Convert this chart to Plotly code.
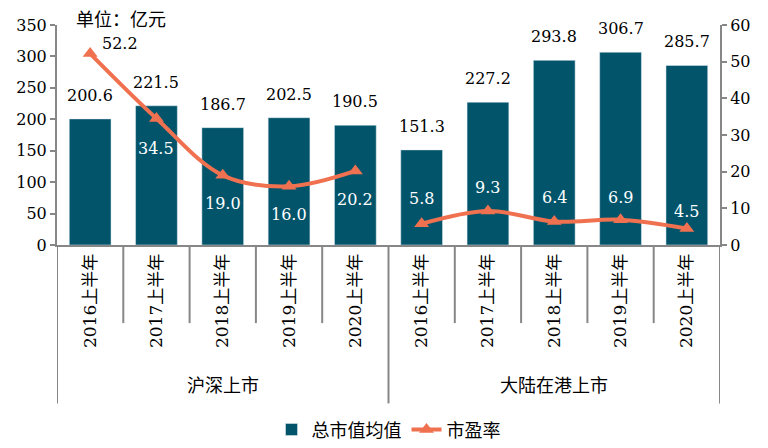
import plotly.graph_objects as go

groups = ["沪深上市", "大陆在港上市"]
periods = ["2016上半年", "2017上半年", "2018上半年", "2019上半年", "2020上半年"]
market_value = [200.6, 221.5, 186.7, 202.5, 190.5, 151.3, 227.2, 293.8, 306.7, 285.7]
pe_ratio = [52.2, 34.5, 19.0, 16.0, 20.2, 5.8, 9.3, 6.4, 6.9, 4.5]

BAR = "#02546A"
LINE = "#F07150"
AXIS = "#878787"
FONT = "DejaVu Serif, Noto Sans CJK SC, serif"

n = len(periods)
xs = list(range(len(market_value)))
ticktext = periods * len(groups)

# break the line between the two groups
line_x, line_y = [], []
for g in range(len(groups)):
    if g:
        line_x.append(None)
        line_y.append(None)
    line_x += xs[g * n:(g + 1) * n]
    line_y += pe_ratio[g * n:(g + 1) * n]

fig = go.Figure()
fig.add_trace(go.Bar(x=xs, y=market_value, name="总市值均值",
                     marker_color=BAR, width=0.63))
fig.add_trace(go.Scatter(x=line_x, y=line_y, name="市盈率", yaxis="y2",
                         mode="lines+markers", connectgaps=False,
                         line=dict(color=LINE, width=4, shape="spline"),
                         marker=dict(symbol="triangle-up", size=13, color=LINE)))

annotations = []
for i, v in enumerate(market_value):
    annotations.append(dict(x=i, y=v, yref="y", text=f"{v:.1f}", showarrow=False,
                            yanchor="bottom", yshift=12,
                            font=dict(size=16, color="black")))

# PE labels: first group below the line (first one up-right), second group above
pe_shift = [(30, 10), (0, -30), (0, -28), (0, -28), (0, -29),
            (0, 25), (0, 23), (0, 24), (0, 22), (0, 17)]
for i, v in enumerate(pe_ratio):
    dx, dy = pe_shift[i]
    color = "black" if i == 0 else "white"
    annotations.append(dict(x=i, y=v, yref="y2", text=f"{v:.1f}", showarrow=False,
                            xshift=dx, yshift=dy,
                            font=dict(size=16, color=color)))

for g, name in enumerate(groups):
    annotations.append(dict(x=g * n + (n - 1) / 2, y=-0.64, xref="x", yref="paper",
                            text=name, showarrow=False, yanchor="middle",
                            font=dict(size=18, color="black")))

annotations.append(dict(x=0.025, y=1.027, xref="paper", yref="paper", text="单位：亿元",
                        showarrow=False, xanchor="left", yanchor="middle",
                        font=dict(size=18, color="black")))

shapes = []
for k in range(len(xs) + 1):
    long_line = k % n == 0
    shapes.append(dict(type="line", xref="x", yref="paper",
                       x0=k - 0.5, x1=k - 0.5, y0=0,
                       y1=-0.72 if long_line else -0.355,
                       line=dict(color=AXIS, width=2)))

# page body has an 8px margin, so keep the figure a little smaller than the window
fig.update_layout(
    width=760, height=440,
    margin=dict(l=49, r=48, t=17, b=203, autoexpand=False),
    plot_bgcolor="white", paper_bgcolor="white",
    font=dict(family=FONT, size=15, color="black"),
    bargap=0.37,
    xaxis=dict(tickmode="array", tickvals=xs, ticktext=ticktext, tickangle=-90,
               range=[-0.5, len(xs) - 0.5], showline=True, linecolor=AXIS,
               linewidth=2, ticks="", showgrid=False, zeroline=False,
               automargin=False, tickfont=dict(size=17)),
    yaxis=dict(range=[0, 350], dtick=50, showline=True, linecolor=AXIS, linewidth=2,
               ticks="outside", tickcolor=AXIS, tickwidth=2, ticklen=5,
               showgrid=False, zeroline=False, automargin=False,
               tickfont=dict(size=16)),
    yaxis2=dict(range=[0, 60], dtick=10, overlaying="y", side="right", showline=True,
                linecolor=AXIS, linewidth=2, ticks="outside", tickcolor=AXIS,
                tickwidth=2, ticklen=5, showgrid=False, zeroline=False,
                automargin=False, tickfont=dict(size=16)),
    legend=dict(orientation="h", x=0.5, xanchor="center", y=-0.84, yanchor="middle",
                font=dict(size=18)),
    annotations=annotations,
    shapes=shapes,
    showlegend=True,
)

fig.write_html("out.html")
